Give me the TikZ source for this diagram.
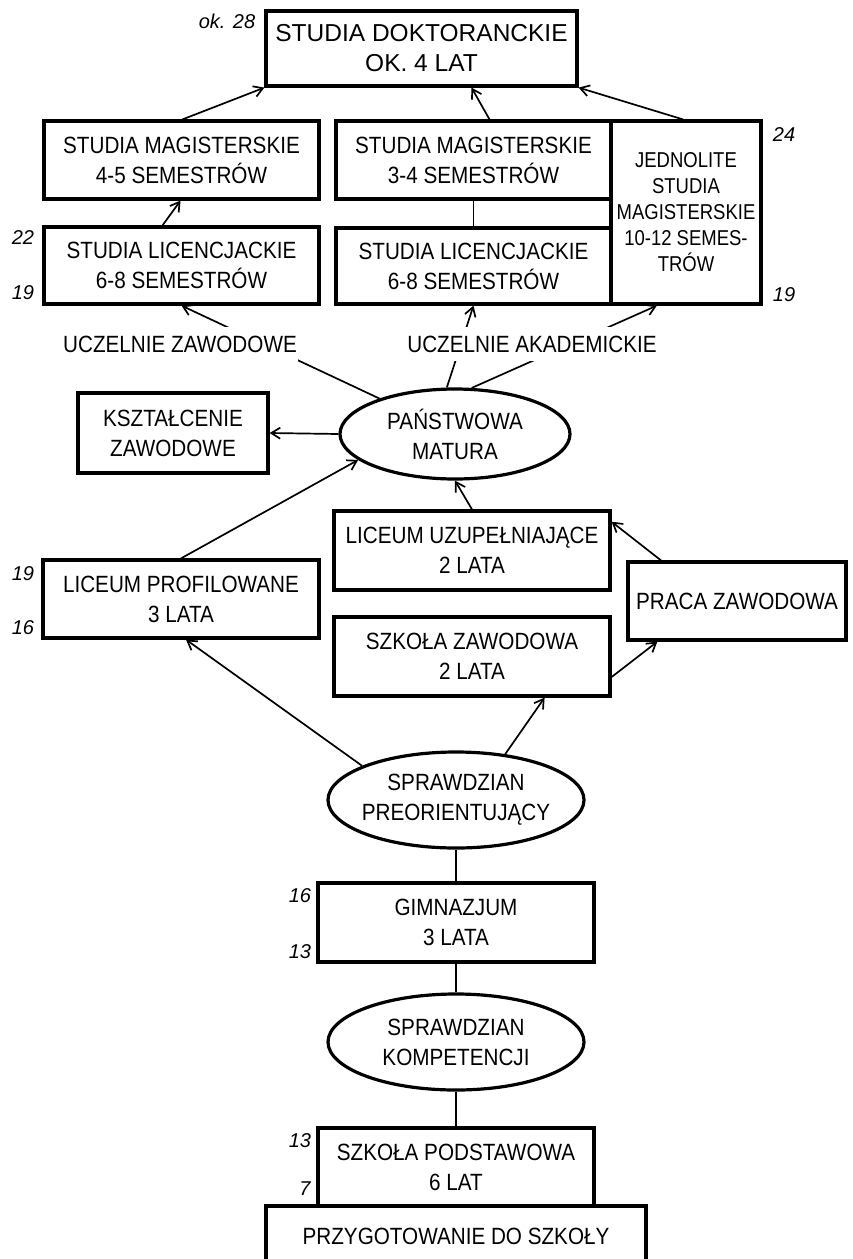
\documentclass[tikz,border=0pt]{standalone}
\usepackage{fontspec}
\setmainfont{Liberation Sans}[FakeStretch=0.88]
\newfontfamily\narrowfont{Liberation Sans}[FakeStretch=0.86]
\newfontfamily\widefont{Liberation Sans}
\newfontfamily\agefont{Liberation Sans}
\usetikzlibrary{arrows.meta,calc,shapes.geometric,backgrounds}
\begin{document}
\begin{tikzpicture}[x=1pt,y=-1pt,
  box/.style={draw, line width=3.2pt, rectangle, inner sep=0pt, align=center, font=\fontsize{23.5}{30}\selectfont},
  oval/.style={draw, line width=3.2pt, ellipse, inner sep=0pt, align=center, font=\fontsize{23.5}{30}\selectfont},
  conn/.style={line width=1.7pt},
  arr/.style={conn, -{Straight Barb[length=9pt,width=11pt,line width=1.7pt]}},
  lab/.style={fill=white, inner xsep=1pt, inner ysep=0pt, minimum height=34pt, font=\fontsize{23.5}{30}\selectfont},
  age/.style={inner sep=0pt, font=\agefont\fontsize{20}{22}\selectfont\itshape},
]
\useasboundingbox (0,0) rectangle (852,1259);

% boxes
\node[box, minimum width=311pt, minimum height=75pt, font=\widefont\fontsize{24.5}{30}\selectfont] (doktor) at (421.5,48.5) {STUDIA DOKTORANCKIE\\OK. 4 LAT};
\node[box, minimum width=275pt, minimum height=78pt] (mag45) at (181.5,160) {STUDIA MAGISTERSKIE\\4-5 SEMESTRÓW};
\node[box, minimum width=275pt, minimum height=77pt] (lic1) at (181.5,265.5) {STUDIA LICENCJACKIE\\6-8 SEMESTRÓW};
\node[box, minimum width=275pt, minimum height=78pt] (mag34) at (473.5,160) {STUDIA MAGISTERSKIE\\3-4 SEMESTRÓW};
\node[box, minimum width=275pt, minimum height=76pt] (lic3) at (473.5,266) {STUDIA LICENCJACKIE\\6-8 SEMESTRÓW};
\node[box, minimum width=150pt, minimum height=183pt, font=\narrowfont\fontsize{21.5}{26}\selectfont] (jedn) at (686,212.5) {JEDNOLITE\\STUDIA\\MAGISTERSKIE\\10-12 SEMES-\\TRÓW};

\node[box, minimum width=190pt, minimum height=80pt] (kszt) at (173,433) {KSZTAŁCENIE\\ZAWODOWE};
\node[oval, minimum width=230pt, minimum height=90pt] (matura) at (455,434) {PAŃSTWOWA\\MATURA};

\node[box, minimum width=276pt, minimum height=79pt] (lu) at (472,550.5) {LICEUM UZUPEŁNIAJĄCE\\2 LATA};
\node[box, minimum width=218pt, minimum height=78pt] (praca) at (737,601) {PRACA ZAWODOWA};
\node[box, minimum width=276pt, minimum height=78pt] (lp) at (181,599) {LICEUM PROFILOWANE\\3 LATA};
\node[box, minimum width=276pt, minimum height=79pt] (sz) at (472,656.5) {SZKOŁA ZAWODOWA\\2 LATA};

\node[oval, inner xsep=-14pt, minimum width=256pt, minimum height=96pt] (preor) at (456,800) {SPRAWDZIAN\\PREORIENTUJĄCY};
\node[box, minimum width=276pt, minimum height=79pt] (gimn) at (456,922.5) {GIMNAZJUM\\3 LATA};
\node[oval, inner xsep=-10pt, minimum width=256pt, minimum height=96pt] (komp) at (456,1042) {SPRAWDZIAN\\KOMPETENCJI};
\node[box, minimum width=276pt, minimum height=78pt] (sp) at (456,1167) {SZKOŁA PODSTAWOWA\\6 LAT};
\node[box, minimum width=380pt, minimum height=60pt] (przyg) at (456,1236) {PRZYGOTOWANIE DO SZKOŁY};

% labels on connectors
\node[lab] (uz) at (180,344) {UCZELNIE ZAWODOWE};
\node[lab] (ua) at (532,344) {UCZELNIE AKADEMICKIE};

% ages
\node[age] (a28) at (227,21) {ok. 28};
\node[age] (a24) at (784,135) {24};
\node[age] (a19r) at (784,295) {19};
\node[age] (a22) at (23,238) {22};
\node[age] (a19l) at (23,293) {19};
\node[age] (a19p) at (23,574) {19};
\node[age] (a16p) at (23,628) {16};
\node[age] (a16g) at (300,896) {16};
\node[age] (a13g) at (300,952) {13};
\node[age] (a13s) at (300,1141) {13};
\node[age] (a7) at (305,1189) {7};

% connectors
\begin{scope}[on background layer]
\draw[arr] ($(lic1.north)+(-19,0)$) -- ($(mag45.south)+(-1,0)$);
\draw[arr] ($(mag45.north)+(1,0)$) -- (doktor.south west);
\draw[arr] ($(mag34.north)+(16,0)$) -- ($(doktor.south)+(50,0)$);
\draw[arr] ($(jedn.north)+(-3,0)$) -- (doktor.south east);
\draw[conn] (mag34.south) -- (lic3.north);
\draw[arr] (matura) -- (lic1.south);
\draw[arr] (matura.100) -- (lic3.south);
\draw[arr] (matura.70) -- ($(jedn.south west)!0.31!(jedn.south east)$);
\draw[arr] (matura.west) -- (kszt.east);
\draw[arr] (lp.north) -- (matura.195);
\draw[arr] (lu.north) -- (matura.south);
\draw[arr] ($(praca.north)+(-76,0)$) -- ($(lu.north east)!0.15!(lu.south east)$);
\draw[arr] ($(sz.north east)!0.75!(sz.south east)$) -- ($(praca.south west)!0.14!(praca.south east)$);
\draw[arr] (preor.160) -- ($(lp.south)+(5,0)$);
\draw[arr] (preor.43) -- ($(sz.south west)!0.76!(sz.south east)$);
\draw[conn] (preor.south) -- (gimn.north);
\draw[conn] (gimn.south) -- (komp.north);
\draw[conn] (komp.south) -- (sp.north);
\end{scope}
\end{tikzpicture}
\end{document}
